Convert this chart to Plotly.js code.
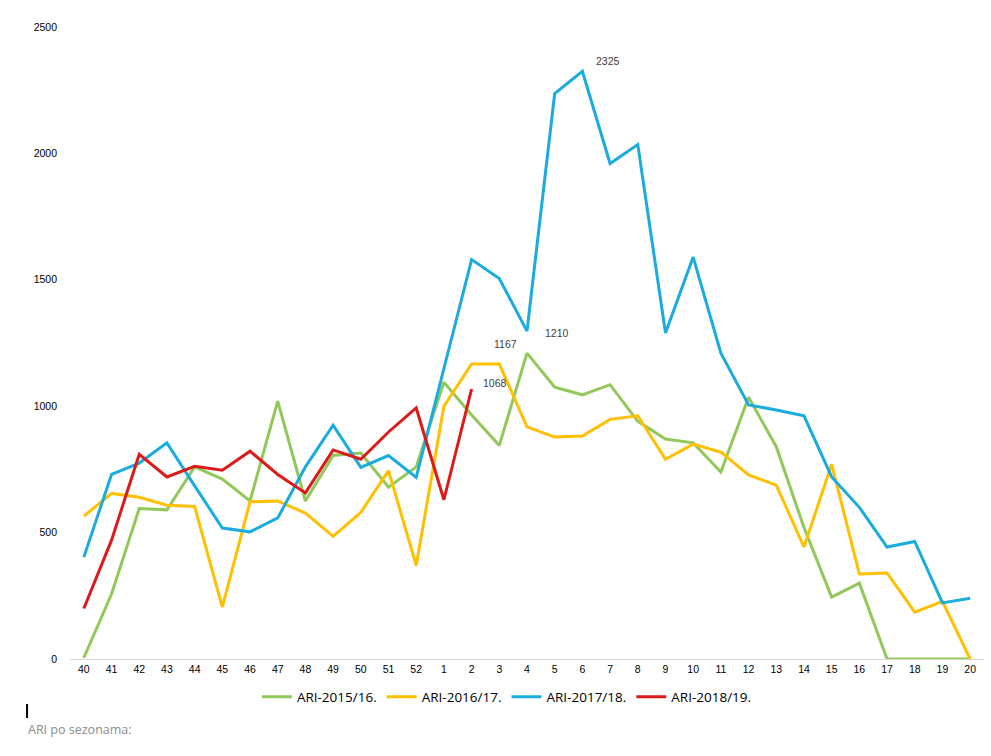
<!DOCTYPE html>
<html>
<head>
<meta charset="utf-8">
<script src="https://cdn.plot.ly/plotly-3.0.1.min.js"></script>
<style>html,body{margin:0;padding:0;background:#fff}#chart{width:991px;height:756px}</style>
</head>
<body>
<div id="chart"></div>
<script>
var weeks = ["40","41","42","43","44","45","46","47","48","49","50","51","52","1","2","3","4","5","6","7","8","9","10","11","12","13","14","15","16","17","18","19","20"];
var ari1516 = [5,257,595,590,760,712,625,1020,625,805,815,680,760,1095,965,845,1210,1075,1045,1085,940,870,855,740,1035,840,520,245,300,0,0,0,0];
var ari1617 = [565,655,640,608,603,205,622,625,577,485,580,745,370,1000,1167,1167,918,878,882,948,962,790,850,818,728,688,443,770,336,340,185,228,0];
var ari1718 = [403,730,775,855,685,518,503,558,760,925,758,805,718,1150,1580,1505,1297,2237,2325,1960,2035,1290,1590,1210,1005,985,962,720,600,443,465,222,240];
var ari1819 = [200,470,810,720,762,747,822,730,657,827,790,898,993,630,1068];
var seriesNames = ["ARI-2015/16.","ARI-2016/17.","ARI-2017/18.","ARI-2018/19."];
var colors = ["#92C85A","#FFC000","#1AABDF","#DC1A1A"];
var labelPoints = [
  {x:"6", y:2325, text:"2325", xs:26, ys:10},
  {x:"4", y:1210, text:"1210", xs:30, ys:20},
  {x:"2", y:1167, text:"1167", xs:34, ys:20},
  {x:"2", y:1068, text:"1068", xs:23, ys:6}
];
var all = [ari1516, ari1617, ari1718, ari1819];
var traces = all.map(function(v,i){
  return {x: weeks.slice(0, v.length), y: v, type:"scatter", mode:"lines", name: seriesNames[i],
    line:{color: colors[i], width:3}};
});
var anns = labelPoints.map(function(p){
  return {x:weeks.indexOf(p.x), y:p.y, xref:"x", yref:"y", text:p.text, showarrow:false, xshift:p.xs, yshift:p.ys,
    font:{family:"Liberation Sans, Arial", size:10.5, color:"#404040"}};
});
anns.push({xref:"paper", yref:"paper", x:-0.048, y:-0.111, xanchor:"left", yanchor:"middle",
  text:"ARI po sezonama:", showarrow:false, font:{family:"Open Sans, Liberation Sans", size:12.5, color:"#8c8c8c"}});
var layout = {
  width:991, height:756,
  margin:{l:70, r:7, t:27, b:97},
  paper_bgcolor:"#fff", plot_bgcolor:"#fff",
  showlegend:true,
  legend:{orientation:"h", x:0.478, xanchor:"center", y:-0.06, yanchor:"middle",
    font:{family:"Open Sans, Liberation Sans", size:13.5, color:"#000"}, itemwidth:30, tracegroupgap:0},
  xaxis:{type:"category", range:[-0.5,32.5], showgrid:false, showline:true, linecolor:"#d9d9d9", linewidth:1,
    ticks:"", zeroline:false, tickfont:{family:"Liberation Sans, Arial", size:10.5, color:"#000"}, fixedrange:true},
  yaxis:{range:[0,2500], dtick:500, showgrid:false, zeroline:false, showline:false, ticks:"",
    tickfont:{family:"Liberation Sans, Arial", size:10.5, color:"#000"}, ticklabelstandoff:12, fixedrange:true},
  annotations: anns,
  shapes:[{type:"line", xref:"paper", yref:"paper", x0:-0.047, x1:-0.047, y0:-0.0712, y1:-0.0934,
    line:{color:"#000", width:2}}]
};
Plotly.newPlot("chart", traces, layout, {displayModeBar:false, staticPlot:true});
</script>
</body>
</html>
